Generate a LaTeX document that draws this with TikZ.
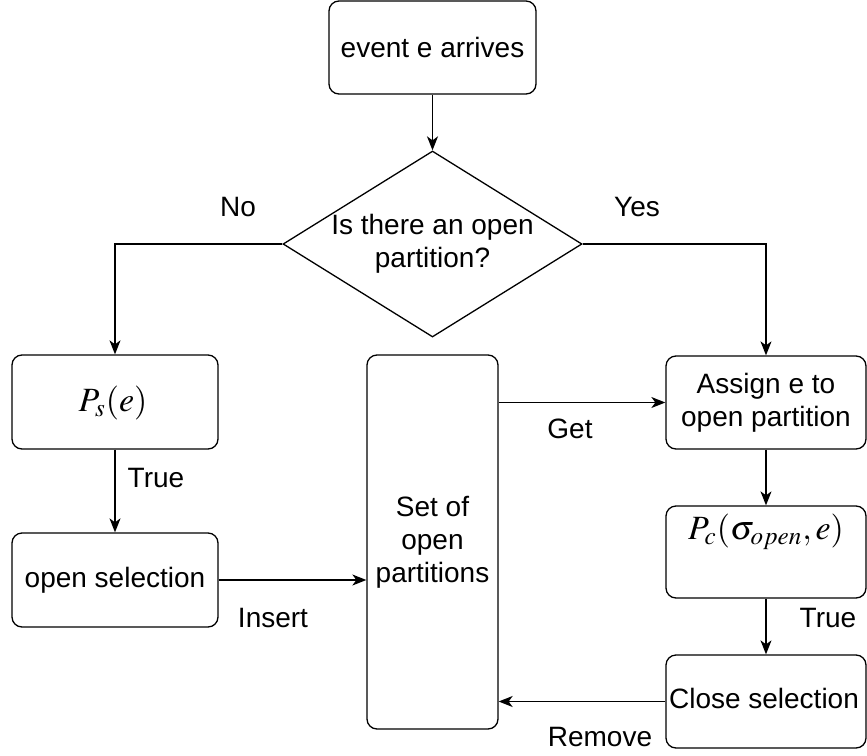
\documentclass[tikz,border=0pt]{standalone}
\usepackage{mathptmx}
\usepackage{fontspec}
\setmainfont{Liberation Sans}
\usetikzlibrary{arrows.meta,shapes.geometric}

\begin{document}
\begin{tikzpicture}[x=0.5pt,y=-0.5pt,
  line width=0.65pt,
  box/.style={draw, rounded corners=5pt, inner sep=0pt, align=center,
    font=\fontsize{14}{16.5}\selectfont},
  decision/.style={draw, diamond, inner sep=0pt,
    minimum width=149.5pt, minimum height=93pt},
  arr/.style={-{Stealth[length=7pt,width=5.5pt,inset=2pt]}},
  lbl/.style={font=\fontsize{14}{16.5}\selectfont, inner sep=0pt},
  mathlbl/.style={font=\fontsize{17}{20}\selectfont, inner sep=0pt}]

  \useasboundingbox (0,0) rectangle (867,755);

  % process boxes
  \node[box, minimum width=103.5pt, minimum height=46.5pt] (event) at (432.5,47.5) {event e arrives};
  \node[decision, label={[name=qtext, align=center, font=\fontsize{14}{16.5}\selectfont]center:Is there an open\\partition?}] (dec) at (432.5,244) {};

  \node[box, minimum width=103pt, minimum height=47pt] (ps) at (115,402) {};
  \node[mathlbl] (pstext) at (113,403) {$P_s(e)$};
  \node[box, minimum width=103pt, minimum height=47pt] (opensel) at (115,580) {open selection};

  \node[box, minimum width=65.5pt, minimum height=187pt] (set) at (432.5,542) {Set of\\open\\partitions};

  \node[box, minimum width=100pt, minimum height=46.5pt] (assign) at (766,402.5) {Assign e to\\open partition};
  \node[box, minimum width=100pt, minimum height=46pt] (pc) at (766,552) {};
  \node[mathlbl] (pctext) at (766,532) {$P_c(\sigma_{open},e)$};
  \node[box, minimum width=100pt, minimum height=46.5pt] (close) at (766,701.5) {};
  \node[lbl] (closetext) at (764,698) {Close selection};

  % connectors
  \draw[arr] (event) -- (dec);
  \draw[arr] (dec.west) -| (ps.north);
  \draw[arr] (dec.east) -| (assign.north);
  \draw[arr] (ps) -- (opensel);
  \draw[arr] (opensel.east) -- (opensel.east -| set.west);
  \draw[arr] (set.east |- assign.west) -- (assign.west);
  \draw[arr] (assign) -- (pc);
  \draw[arr] (pc) -- (close);
  \draw[arr] (close.west) -- (close.west -| set.east);

  % edge labels
  \node[lbl] (no) at (238,207) {No};
  \node[lbl] (yes) at (637,207) {Yes};
  \node[lbl] (true1) at (156,478) {True};
  \node[lbl] (insert) at (273,618) {Insert};
  \node[lbl] (get) at (570,429) {Get};
  \node[lbl] (true2) at (828,618) {True};
  \node[lbl] (remove) at (600,737) {Remove};
\end{tikzpicture}
\end{document}
